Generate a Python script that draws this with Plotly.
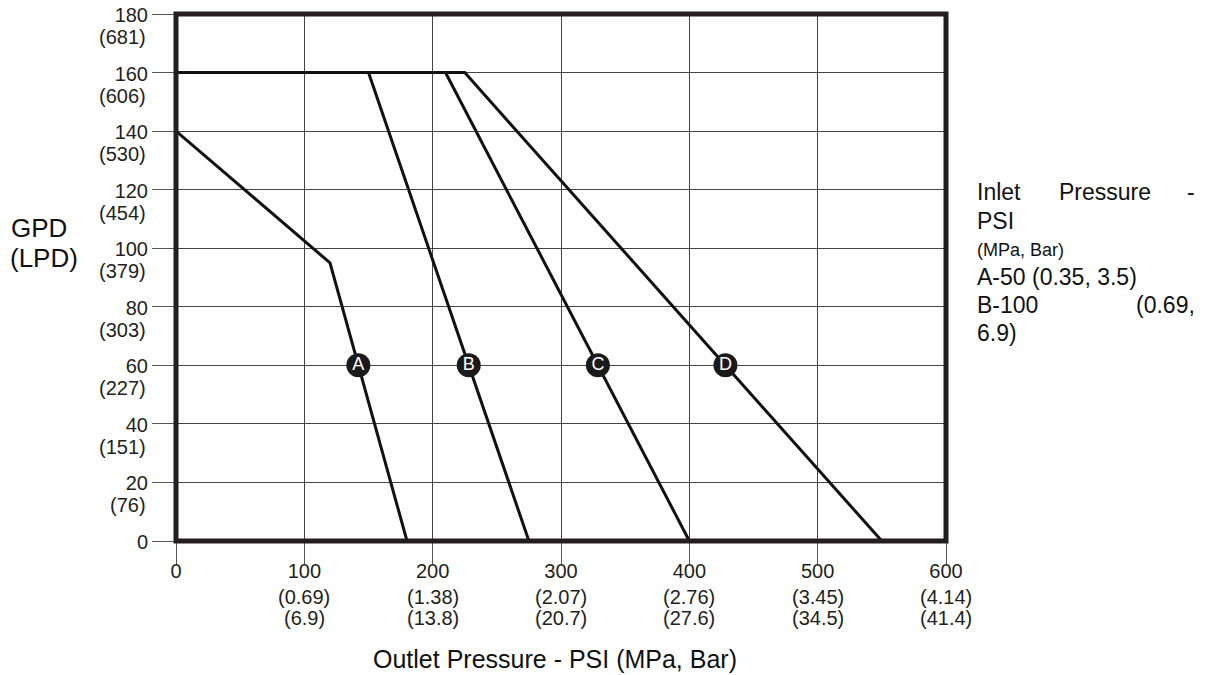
import numpy as np
import plotly.graph_objects as go

# ---- data ----
a_x = [0, 120, 180]
a_y = [140, 95, 0]
b_x = [0, 150, 275]
b_y = [160, 160, 0]
c_x = [0, 210, 400]
c_y = [160, 160, 0]
d_x = [0, 225, 550]
d_y = [160, 160, 0]
curve_names = ["A", "B", "C", "D"]
label_gpd = 60

x_ticks = [0, 100, 200, 300, 400, 500, 600]
x_mpa = ["", "(0.69)", "(1.38)", "(2.07)", "(2.76)", "(3.45)", "(4.14)"]
x_bar = ["", "(6.9)", "(13.8)", "(20.7)", "(27.6)", "(34.5)", "(41.4)"]
y_ticks = [0, 20, 40, 60, 80, 100, 120, 140, 160, 180]
y_lpd = ["", "(76)", "(151)", "(227)", "(303)", "(379)", "(454)", "(530)", "(606)", "(681)"]

FONT = "Liberation Sans, Arial, sans-serif"
INK = "#231f20"

W, H = 1209, 675
L, T = 176, 14
pw, ph = 770, 527
R, B = W - L - pw, H - T - ph

def px(xp):  # screen pixel -> paper x
    return (xp - L) / pw

def py(yp):  # screen pixel -> paper y
    return (H - B - yp) / ph

fig = go.Figure()
curves = [(a_x, a_y), (b_x, b_y), (c_x, c_y), (d_x, d_y)]
for (xs, ys), name in zip(curves, curve_names):
    fig.add_trace(go.Scatter(x=xs, y=ys, mode="lines", name=name,
                             line=dict(color="#111111", width=3),
                             showlegend=False, hoverinfo="skip"))

# circled letters at GPD = 60 on each curve
mx = [float(np.interp(label_gpd, ys[::-1], xs[::-1])) for xs, ys in curves]
fig.add_trace(go.Scatter(x=mx, y=[label_gpd] * len(mx), mode="markers+text",
                         text=curve_names, textposition="middle center",
                         marker=dict(size=24, color="#1a1a1a"),
                         textfont=dict(color="white", size=18, family=FONT),
                         showlegend=False, hoverinfo="skip"))

annotations = []
# y secondary labels (LPD)
for v, t in zip(y_ticks, y_lpd):
    if t:
        annotations.append(dict(xref="paper", yref="y", x=0, y=v, text=t,
                                showarrow=False, xanchor="right", yanchor="middle",
                                xshift=-28, yshift=-23,
                                font=dict(family=FONT, size=20, color=INK)))
# x secondary labels (MPa, Bar)
for v, t1, t2 in zip(x_ticks, x_mpa, x_bar):
    if t1:
        annotations.append(dict(xref="x", yref="paper", x=v, y=0, text=t1,
                                showarrow=False, xanchor="center", yanchor="middle",
                                yshift=-56, font=dict(family=FONT, size=20, color=INK)))
        annotations.append(dict(xref="x", yref="paper", x=v, y=0, text=t2,
                                showarrow=False, xanchor="center", yanchor="middle",
                                yshift=-77, font=dict(family=FONT, size=20, color=INK)))

# axis titles
annotations.append(dict(xref="paper", yref="paper", x=px(555), y=py(659),
                        text="Outlet Pressure - PSI (MPa, Bar)", showarrow=False,
                        xanchor="center", yanchor="middle",
                        font=dict(family=FONT, size=25, color="#111111")))
annotations.append(dict(xref="paper", yref="paper", x=px(9), y=py(228), text="GPD",
                        showarrow=False, xanchor="left", yanchor="middle",
                        font=dict(family=FONT, size=26, color="#111111")))
annotations.append(dict(xref="paper", yref="paper", x=px(8), y=py(258), text="(LPD)",
                        showarrow=False, xanchor="left", yanchor="middle",
                        font=dict(family=FONT, size=26, color="#111111")))

# right-hand note (justified text, cut off like the original)
note = [
    ("Inlet", 975, 192, "left", 23),
    ("Pressure", 1057, 192, "left", 23),
    ("-", 1197, 192, "right", 23),
    ("PSI", 975, 221, "left", 23),
    ("(MPa, Bar)", 975, 250, "left", 18),
    ("A-50 (0.35, 3.5)", 975, 277, "left", 23),
    ("B-100", 975, 305, "left", 23),
    ("(0.69,", 1197, 305, "right", 23),
    ("6.9)", 975, 333, "left", 23),
]
for txt, xp, yp, anc, sz in note:
    annotations.append(dict(xref="paper", yref="paper", x=px(xp), y=py(yp), text=txt,
                            showarrow=False, xanchor=anc, yanchor="middle",
                            font=dict(family=FONT, size=sz, color="#111111")))

fig.update_layout(
    width=W, height=H,
    margin=dict(l=L, r=R, t=T, b=B, autoexpand=False),
    paper_bgcolor="white", plot_bgcolor="white",
    font=dict(family=FONT, color=INK),
    annotations=annotations,
    shapes=[dict(type="rect", xref="paper", yref="paper", x0=0, y0=0, x1=1, y1=1,
                 line=dict(color=INK, width=5), layer="above")],
)
fig.update_xaxes(range=[0, 600], tickvals=x_ticks, ticktext=[str(v) for v in x_ticks],
                 showgrid=True, gridcolor="#444444", gridwidth=1, zeroline=False,
                 ticks="outside", ticklen=22, tickcolor="#555555", tickwidth=1,
                 ticklabelstandoff=-10, automargin=False, ticklabeloverflow="allow",
                 tickfont=dict(family=FONT, size=20, color=INK), showline=False,
                 fixedrange=True)
fig.update_yaxes(range=[0, 180], tickvals=y_ticks, ticktext=[str(v) for v in y_ticks],
                 showgrid=True, gridcolor="#444444", gridwidth=1, zeroline=False,
                 ticks="outside", ticklen=23, tickcolor="#555555", tickwidth=1,
                 ticklabelshift=1, automargin=False, ticklabeloverflow="allow",
                 tickfont=dict(family=FONT, size=20, color=INK), showline=False,
                 fixedrange=True)

# remove the default page margin so the figure fills the 1209x675 window exactly
fig.write_html("out.html", config={"displayModeBar": False},
               post_script="document.body.style.margin='0';document.body.style.overflow='hidden';")
